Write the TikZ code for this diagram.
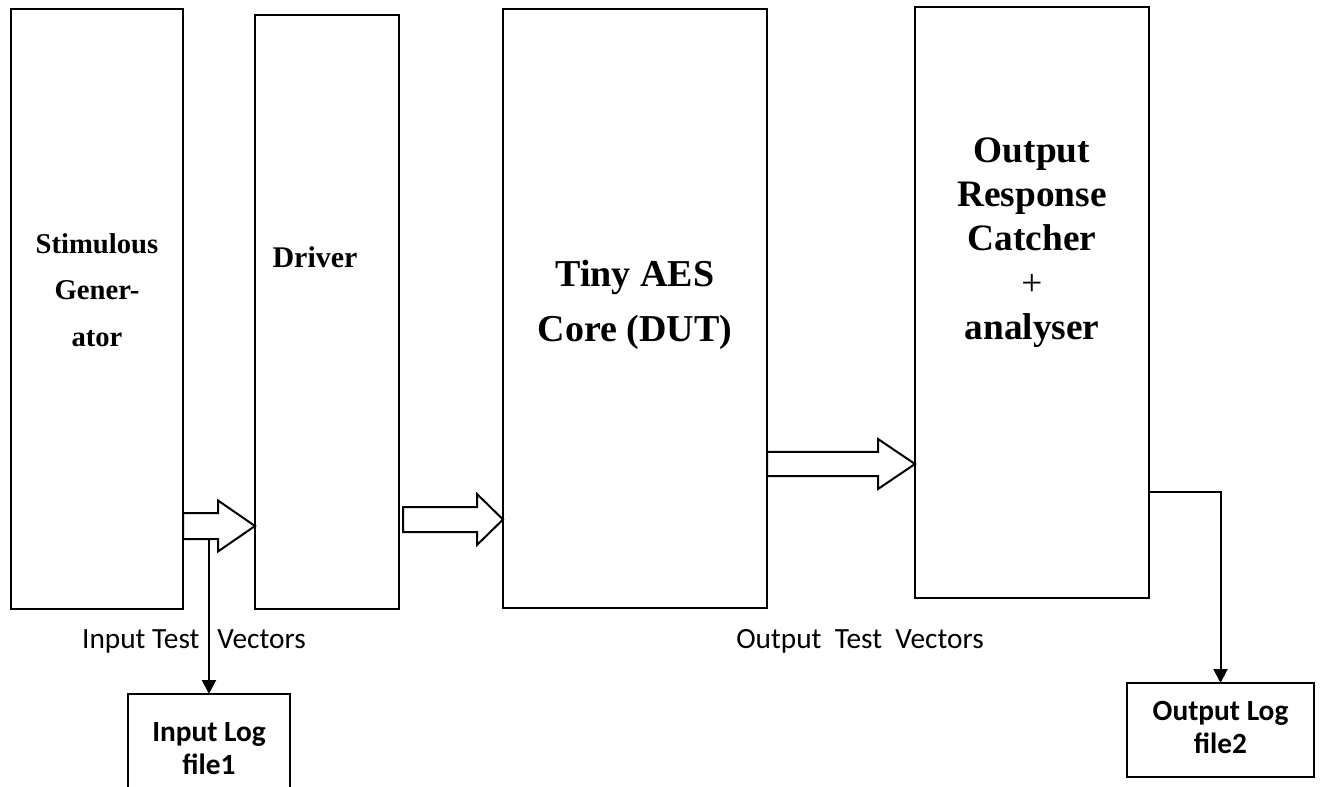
\documentclass[tikz,border=0pt]{standalone}
\usepackage{fontspec}
\setmainfont{Liberation Serif}
\newfontfamily\calibfont{Carlito}
\usetikzlibrary{calc,arrows.meta}

\tikzset{
  blockbox/.style={draw, line width=1.5pt, inner sep=0pt, outer sep=0pt},
  conn/.style={line width=1.5pt, -{Triangle[width=10.5pt,length=10.5pt]}},
  fatarrow/.style={draw, line width=1.5pt, fill=white, line join=miter},
  headtext/.style={align=center, inner sep=0pt},
  labeltext/.style={inner sep=0pt, font=\calibfont\fontsize{22pt}{26pt}\selectfont},
  logtext/.style={align=center, inner sep=0pt, font=\calibfont\bfseries\fontsize{22pt}{24.5pt}\selectfont}
}

% hollow block arrow: #1 tail point, #2 tip point, #3 head length, #4 shaft half height, #5 head half height
\newcommand{\hollowarrow}[5]{%
  \draw[fatarrow]
    ($(#1)+(0,-#4)$) -- ($(#2)+(-#3,-#4)$) -- ($(#2)+(-#3,-#5)$) -- (#2)
    -- ($(#2)+(-#3,#5)$) -- ($(#2)+(-#3,#4)$) -- ($(#1)+(0,#4)$) -- cycle;}

\begin{document}
\begin{tikzpicture}[x=0.75pt, y=-0.75pt]
\useasboundingbox (0,0) rectangle (1320,787);
\clip (0,0) rectangle (1320,787);

% main blocks
\node[blockbox, minimum width=129pt, minimum height=450pt] (stim) at (97,309) {};
\node[blockbox, minimum width=108pt, minimum height=445.5pt] (driver) at (327,312) {};
\node[blockbox, minimum width=198pt, minimum height=449.25pt] (dut) at (635,308.5) {};
\node[blockbox, minimum width=175.5pt, minimum height=443.25pt] (catcher) at (1032,302.5) {};

% log files
\node[blockbox, minimum width=121pt, minimum height=94.5pt] (inlog) at (209,757) {};
\node[blockbox, minimum width=140.25pt, minimum height=70.5pt] (outlog) at (1220.5,730) {};

% block captions
\node[headtext, font=\bfseries\fontsize{21.5pt}{35pt}\selectfont] (stimtxt) at (97,290)
  {Stimulous\\Gener-\\ator};
\node[headtext, font=\bfseries\fontsize{22.5pt}{27pt}\selectfont] (drvtxt) at (315,257) {Driver};
\node[headtext, font=\bfseries\fontsize{28.5pt}{41pt}\selectfont] (duttxt) at (635,305)
  {Tiny AES\\Core (DUT)};
\node[headtext, font=\bfseries\fontsize{28pt}{33.3pt}\selectfont] (cattxt) at (1032,242.5)
  {Output\\Response\\Catcher\\{\mdseries +}\\analyser};

\node[logtext] (inlogtxt) at (209,748.5) {Input Log\\file1};
\node[logtext] (outlogtxt) at (1220.5,727.5) {Output Log\\file2};

% data flow arrows between the blocks
\coordinate (ya) at (0,526);
\coordinate (yb) at (0,519.5);
\coordinate (yc) at (0,464);
\coordinate (d2start) at (403,519.5);
\hollowarrow{stim.east |- ya}{driver.west |- ya}{37}{13}{25.5}
\hollowarrow{d2start}{dut.west |- yb}{26}{12.5}{25.5}
\hollowarrow{dut.east |- yc}{catcher.west |- yc}{37}{12}{25}

% logging taps
\coordinate (tapin) at (209,539);
\coordinate (yo) at (0,492);
\draw[conn] (tapin) -- (tapin |- inlog.north);
\draw[conn] (catcher.east |- yo) -- (outlog.north |- yo) -- (outlog.north);

% vector labels
\node[labeltext] (inlbl) at (194,641) {Input Test\hspace{13.5pt}Vectors};
\node[labeltext] (outlbl) at (860,641) {Output\ \ Test\ \ Vectors};
\end{tikzpicture}
\end{document}
